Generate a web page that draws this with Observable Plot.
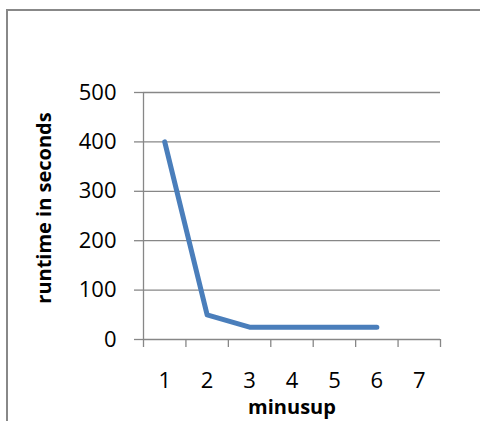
<!DOCTYPE html>
<html><head><meta charset="utf-8">
<script src="https://cdn.jsdelivr.net/npm/d3@7"></script>
<script src="https://cdn.jsdelivr.net/npm/@observablehq/plot@0.6"></script>
<style>
body{margin:0;background:#fff;}
#wrap{position:relative;width:480px;height:421px;overflow:hidden;}
#border{position:absolute;left:6px;top:9px;width:500px;height:500px;border-left:2px solid #888;border-top:2px solid #888;pointer-events:none;}
</style></head><body><div id="wrap"><div id="border"></div></div>
<script>
const categories = [1, 2, 3, 4, 5, 6, 7];
const runtime = [400, 50, 25, 25, 25, 25];
const yTicks = [0, 100, 200, 300, 400, 500];
const categoryEdges = [0.5, 1.5, 2.5, 3.5, 4.5, 5.5, 6.5, 7.5];
const xTitle = "minusup";
const yTitle = "runtime in seconds";

const data = runtime.map((v, i) => ({minusup: categories[i], runtime: v}));
const grid = "#878787";
const chart = Plot.plot({
  width: 480, height: 421,
  marginLeft: 143, marginRight: 40, marginTop: 92, marginBottom: 82,
  style: {fontFamily: "'Open Sans', sans-serif", fontSize: "22px", color: "#000", background: "transparent"},
  x: {domain: [categoryEdges[0], categoryEdges[categoryEdges.length - 1]]},
  y: {domain: [yTicks[0], yTicks[yTicks.length - 1]]},
  marks: [
    Plot.ruleY(yTicks, {stroke: grid, strokeWidth: 1.3}),
    Plot.ruleX([categoryEdges[0]], {stroke: grid, strokeWidth: 1.3}),
    Plot.axisY({ticks: yTicks, tickSize: 9, tickPadding: 18, label: null, stroke: grid, strokeWidth: 1.3}),
    Plot.axisX({ticks: categoryEdges, tickFormat: () => "", tickSize: 8, label: null, stroke: grid, strokeWidth: 1.3}),
    Plot.axisX({ticks: categories, tickFormat: d => String(d), tickSize: 0, tickPadding: 33, label: null}),
    Plot.line(data, {x: "minusup", y: "runtime", stroke: "#4a7ebb", strokeWidth: 5, strokeLinecap: "round", strokeLinejoin: "round"}),
    Plot.text([yTitle], {frameAnchor: "left", textAnchor: "middle", lineAnchor: "middle", dx: -99, dy: -8, rotate: -90, fontWeight: "bold", fontSize: 20}),
    Plot.text([xTitle], {frameAnchor: "bottom", textAnchor: "middle", lineAnchor: "middle", dy: 68, fontWeight: "bold", fontSize: 20})
  ]
});
document.getElementById("wrap").prepend(chart);
</script>
</body></html>
